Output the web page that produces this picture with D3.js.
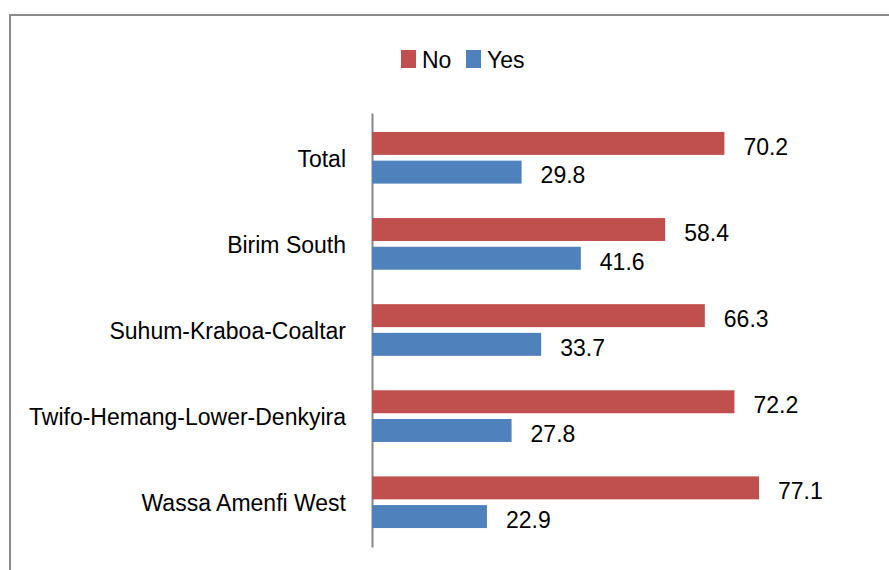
<!DOCTYPE html>
<html>
<head>
<meta charset="utf-8">
<script src="https://cdn.jsdelivr.net/npm/d3@7"></script>
<style>
  body { margin: 0; background: #fff; }
  text { font-family: "Liberation Sans", Arial, sans-serif; fill: #000; }
</style>
</head>
<body>
<div id="my_dataviz"></div>
<script>

// data
var districts = ["Total", "Birim South", "Suhum-Kraboa-Coaltar", "Twifo-Hemang-Lower-Denkyira", "Wassa Amenfi West"];
var series = ["No", "Yes"];
var noValues = [70.2, 58.4, 66.3, 72.2, 77.1];
var yesValues = [29.8, 41.6, 33.7, 27.8, 22.9];
var colors = {No: "#C0504D", Yes: "#4F81BD"};

var data = districts.map(function(d, i) {
  return {district: d, No: noValues[i], Yes: yesValues[i]};
});

var W = 889, H = 570;

var svg = d3.select("#my_dataviz")
  .append("svg")
  .attr("width", W)
  .attr("height", H);

// outer frame (runs off the right and bottom edge)
svg.append("rect")
  .attr("x", 10)
  .attr("y", 15)
  .attr("width", 1000)
  .attr("height", 1000)
  .attr("fill", "none")
  .attr("stroke", "#8c8c8c")
  .attr("stroke-width", 2);

// scales
var x = d3.scaleLinear()
  .domain([0, 100])
  .range([372, 874]);

var y = d3.scaleBand()
  .domain(districts)
  .range([113, 547])
  .paddingInner(0.4)
  .paddingOuter(0.22);

var ySub = d3.scaleBand()
  .domain(series)
  .range([0, y.bandwidth()])
  .paddingInner(0.2);

// Y axis
var yAxis = svg.append("g")
  .attr("transform", "translate(" + x(0) + ",0)")
  .call(d3.axisLeft(y).tickSize(0).tickSizeOuter(0).tickPadding(26));

yAxis.select(".domain")
  .attr("stroke", "#868686")
  .attr("stroke-width", 2);

yAxis.selectAll("text")
  .attr("dy", "0.4em")
  .style("font-size", "23px")
  .style("font-family", "'Liberation Sans', Arial, sans-serif")
  .attr("fill", "#000");

// bars
var groups = svg.selectAll(".grp")
  .data(data)
  .enter()
  .append("g")
  .attr("class", "grp")
  .attr("transform", function(d) { return "translate(0," + y(d.district) + ")"; });

groups.selectAll("rect")
  .data(function(d) { return series.map(function(s) { return {key: s, value: d[s]}; }); })
  .enter()
  .append("rect")
  .attr("x", x(0))
  .attr("y", function(d) { return ySub(d.key); })
  .attr("width", function(d) { return x(d.value) - x(0); })
  .attr("height", ySub.bandwidth())
  .attr("fill", function(d) { return colors[d.key]; });

// value labels
groups.selectAll(".val")
  .data(function(d) { return series.map(function(s) { return {key: s, value: d[s]}; }); })
  .enter()
  .append("text")
  .attr("class", "val")
  .attr("x", function(d) { return x(d.value) + 19; })
  .attr("y", function(d) { return ySub(d.key) + ySub.bandwidth() / 2; })
  .attr("dy", "0.49em")
  .style("font-size", "23px")
  .text(function(d) { return d.value.toFixed(1); });

// legend
var legendX = [401, 466];
var legend = svg.selectAll(".legend")
  .data(series)
  .enter()
  .append("g")
  .attr("class", "legend")
  .attr("transform", function(d, i) { return "translate(" + legendX[i] + ",50)"; });

legend.append("rect")
  .attr("width", 15)
  .attr("height", 18)
  .attr("fill", function(d) { return colors[d]; });

legend.append("text")
  .attr("x", 21)
  .attr("y", 18)
  .style("font-size", "23px")
  .text(function(d) { return d; });

</script>
</body>
</html>
